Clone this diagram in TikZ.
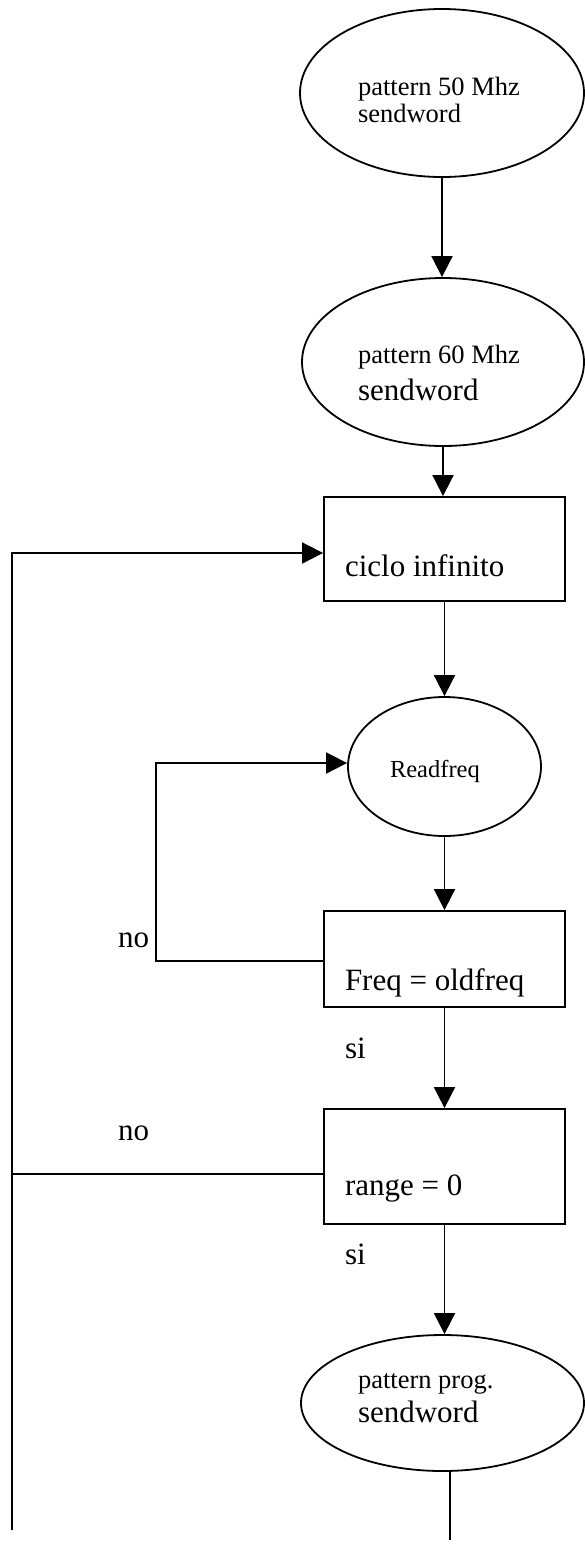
\documentclass[tikz,border=0pt]{standalone}
\usepackage{fontspec}
\setmainfont{Liberation Serif}
\usetikzlibrary{arrows.meta,shapes.geometric}
\tikzset{
  shapeline/.style={draw=black, line width=1.8pt},
  ellnode/.style={shapeline, ellipse, inner sep=0pt},
  boxnode/.style={shapeline, rectangle, inner sep=0pt, minimum width=241pt},
  conn/.style={draw=black, line width=1.8pt},
  arr/.style={conn, -{Triangle[length=21pt,width=21pt]}},
  txt/.style={anchor=base west, inner sep=0pt, outer sep=0pt},
  small/.style={font=\fontsize{26.5}{30}\selectfont},
  large/.style={font=\fontsize{31}{35}\selectfont},
  tiny/.style={font=\fontsize{24.5}{28}\selectfont},
}
\begin{document}
\begin{tikzpicture}[x=1pt, y=-1pt]
\useasboundingbox (0,0) rectangle (584,1550);

% shapes
\node[ellnode, minimum width=284pt, minimum height=168pt] (e1) at (442,93) {};
\node[ellnode, minimum width=282pt, minimum height=168pt] (e2) at (443,362) {};
\node[boxnode, minimum height=104pt] (b1) at (444.5,549) {};
\node[ellnode, minimum width=193pt, minimum height=139pt] (rf) at (444.5,766.5) {};
\node[boxnode, minimum height=96pt] (b2) at (444.5,959) {};
\node[boxnode, minimum height=115pt] (b3) at (444.5,1166.5) {};
\node[ellnode, minimum width=283pt, minimum height=136pt] (e4) at (442.5,1403) {};

% texts
\node[txt, small] (t1a) at (358,95) {pattern 50 Mhz};
\node[txt, small] (t1b) at (358,122) {sendword};
\node[txt, small] (t2a) at (358,363) {pattern 60 Mhz};
\node[txt, large] (t2b) at (358,400) {sendword};
\node[txt, large] (tb1) at (345,576) {ciclo infinito};
\node[txt, tiny] (trf) at (390,777) {Readfreq};
\node[txt, large] (tb2) at (345,990) {Freq = oldfreq};
\node[txt, large] (tb3) at (345,1195) {range = 0};
\node[txt, small] (t4a) at (358,1388) {pattern prog.};
\node[txt, large] (t4b) at (358,1422) {sendword};
\node[txt, large] (no1) at (118,947) {no};
\node[txt, large] (si1) at (345,1058) {si};
\node[txt, large] (no2) at (118,1140) {no};
\node[txt, large] (si2) at (345,1264) {si};

% helper coordinates
\coordinate (L1) at (12,1530);
\coordinate (L2) at (12,553);
\coordinate (N3) at (12,1174);
\coordinate (N1) at (156,961);
\coordinate (R1) at (156,763);
\coordinate (E4end) at (450,1540);

% connectors
\draw[arr] (e1.south) -- (e1.south |- e2.north);
\draw[arr] (e2.south) -- (e2.south |- b1.north);
\draw[arr] (b1.south) -- (b1.south |- rf.north);
\draw[arr] (rf.south) -- (rf.south |- b2.north);
\draw[arr] (b2.south) -- (b2.south |- b3.north);
\draw[arr] (b3.south) -- (b3.south |- e4.north);
\draw[conn] (e4.south -| E4end) -- (E4end);

% loops
\draw[arr] (b2.west |- N1) -- (N1) -- (R1) -- (rf.west |- R1);
\draw[conn] (b3.west |- N3) -- (N3);
\draw[arr] (L1) -- (L2) -- (b1.west |- L2);
\end{tikzpicture}
\end{document}
